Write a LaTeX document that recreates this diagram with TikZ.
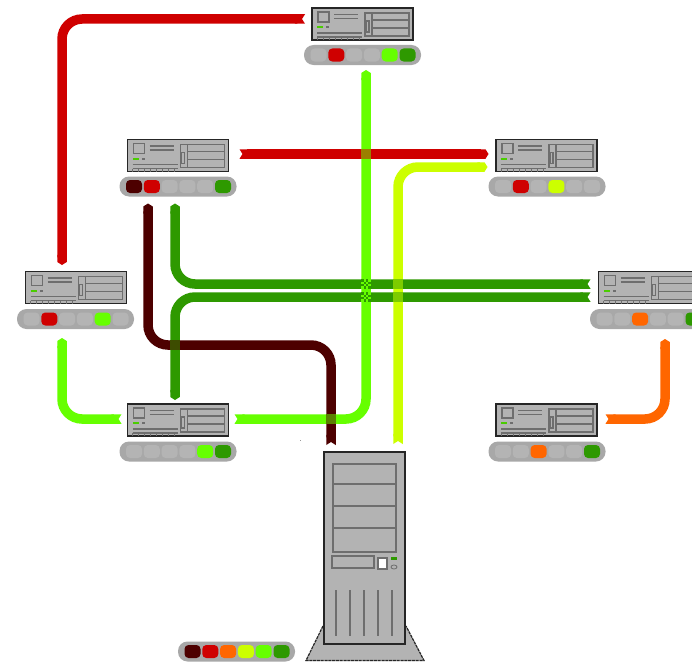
\documentclass[tikz,border=0pt]{standalone}
\usetikzlibrary{arrows.meta,calc}
\definecolor{cMaroon}{HTML}{4D0000}
\definecolor{cRed}{HTML}{CF0000}
\definecolor{cOrange}{HTML}{FF6600}
\definecolor{cYellow}{HTML}{CCFF00}
\definecolor{cLime}{HTML}{66FF00}
\definecolor{cGreen}{HTML}{2E9900}
\definecolor{cBody}{HTML}{B3B3B3}
\definecolor{cLine}{HTML}{6E6E6E}
\definecolor{cSlot}{HTML}{B4B4B4}
\definecolor{cBar}{HTML}{A8A8A8}
\tikzset{
  x=1pt,y=-1pt,
  serverbox/.style={draw=black!85,line width=1.4pt,fill=cBody,minimum width=101pt,minimum height=32pt,inner sep=0pt,outer sep=0pt},
  towerbox/.style={draw=black!85,line width=1.6pt,fill=cBody,minimum width=81pt,minimum height=192pt,inner sep=0pt,outer sep=0pt},
  barbox/.style={fill=cBar,rounded corners=9.5pt,minimum width=117pt,minimum height=20pt,inner sep=0pt,outer sep=0pt},
  detail/.style={draw=cLine,line width=1.4pt},
  wire/.style={line width=9.5pt,rounded corners=20pt,{Triangle Cap[reversed,length=3pt]}-{Triangle Cap[length=3pt]}},
  wirerev/.style={line width=9.5pt,rounded corners=20pt,{Triangle Cap[length=3pt]}-{Triangle Cap[reversed,length=3pt]}},
}
% \servdetail{node name}: inner drawing, relative to the box's north west corner
\newcommand{\servdetail}[1]{%
  \begin{scope}[shift={(#1.north west)}]
    \draw[detail] (6,4) rectangle (17,14);
    \draw[detail] (22,6.5) -- (46,6.5) (22,10.5) -- (46,10.5);
    \fill[cGreen!50!cLime] (5,18) rectangle (11,20);
    \fill[cLine] (14,18) rectangle (17,20);
    \draw[detail] (5,25) -- (50,25);
    \draw[detail] (5,29) -- (50,29);
    \foreach \t in {5,11,...,47} \draw[cLine,line width=1pt] (\t,29) -- (\t,32);
    \draw[detail] (53,5) rectangle (60,28);
    \draw[detail] (54,13) rectangle (57,24);
    \draw[detail] (60,5) rectangle (97,12) (60,12) rectangle (97,20) (60,20) rectangle (97,28);
  \end{scope}}
% \slots{bar node}{c1}{c2}{c3}{c4}{c5}{c6}
\newcommand{\slots}[7]{%
  \begin{scope}[shift={(#1.west)}]
    \foreach \n/\c in {0/#2,1/#3,2/#4,3/#5,4/#6,5/#7}
      \fill[\c,rounded corners=4pt] ({6.5+\n*17.8},-6.5) rectangle ({22.5+\n*17.8},6.5);
  \end{scope}}
\begin{document}
\begin{tikzpicture}
\useasboundingbox (0,0) rectangle (692,661);
\clip (0,0) rectangle (692,661);
\fill[white] (0,0) rectangle (692,661);

% servers
\node[serverbox] (s1) at (362.5,24) {};
\node[barbox] (b1) at (362.5,55) {};
\node[serverbox] (s2) at (178,155.5) {};
\node[barbox] (b2) at (178,186.5) {};
\node[serverbox] (s3) at (546.5,155.5) {};
\node[barbox] (b3) at (547,186.5) {};
\node[serverbox] (s4) at (76,287.5) {};
\node[barbox] (b4) at (75.5,319) {};
\node[serverbox] (s5) at (649,287.5) {};
\node[barbox] (b5) at (648.5,319) {};
\node[serverbox] (s6) at (178,420) {};
\node[barbox] (b6) at (178,451.5) {};
\node[serverbox] (s7) at (546.5,420) {};
\node[barbox] (b7) at (547,451.5) {};
\node[barbox] (legend) at (236.5,651.5) {};
\foreach \s in {s1,s2,s3,s4,s5,s6,s7} {\servdetail{\s}}

\slots{b1}{cSlot}{cRed}{cSlot}{cSlot}{cLime}{cGreen}
\slots{b2}{cMaroon}{cRed}{cSlot}{cSlot}{cSlot}{cGreen}
\slots{b3}{cSlot}{cRed}{cSlot}{cYellow}{cSlot}{cSlot}
\slots{b4}{cSlot}{cRed}{cSlot}{cSlot}{cLime}{cSlot}
\slots{b5}{cSlot}{cSlot}{cOrange}{cSlot}{cSlot}{cGreen}
\slots{b6}{cSlot}{cSlot}{cSlot}{cSlot}{cLime}{cGreen}
\slots{b7}{cSlot}{cSlot}{cOrange}{cSlot}{cSlot}{cGreen}
\slots{legend}{cMaroon}{cRed}{cOrange}{cYellow}{cLime}{cGreen}

% tower
\fill[cBody] (323,626) -- (306,661) -- (424,661) -- (406,626) -- cycle;
\draw[black!85,line width=1.2pt,dash pattern=on 3pt off .8pt] (323,626) -- (306,660.5) -- (424,660.5) -- (406,626);
\node[towerbox] (tower) at (364.5,548) {};
\begin{scope}[shift={(tower.north west)}]
  \draw[detail,line width=1.6pt] (9,12) rectangle (72,100);
  \draw[detail,line width=1.6pt] (9,32) -- (72,32) (9,54) -- (72,54) (9,76) -- (72,76);
  \draw[detail,line width=1.6pt] (8,104) rectangle (50,116);
  \draw[detail,fill=white,line width=1.6pt] (54,106) rectangle (63,117);
  \fill[cGreen] (67,104.5) rectangle (73,108);
  \draw[cLine,line width=.8pt] (70,115) ellipse (3 and 2);
  \foreach \v in {12,26,40,54,68} \draw[detail] (\v,138) -- (\v,184);
\end{scope}

% connectors
\draw[wire,cRed] ([shift={(-7,-5)}]s1.west) -| ([shift={(-14,-6.5)}]s4.north);
\draw[wire,cRed] ([shift={(11,-1.5)}]s2.east) -- ([shift={(-7.5,-1.5)}]s3.west);
\draw[wirerev,cLime] ([shift={(3.5,5)}]b1.south) |- ([shift={(6,-1)}]s6.east);
\draw[wirerev,cYellow] ([shift={(-8.5,11.5)}]s3.west) -| ([shift={(33.5,-8)}]tower.north);
\draw[wirerev,cGreen] ([shift={(-3,7)}]b2.south) |- ([shift={(-8,-3.5)}]s5.west);
\draw[wirerev,cGreen] ([shift={(-3,-4)}]s6.north) |- ([shift={(-8,9.5)}]s5.west);
\coordinate (mid) at (240,345);
\draw[wirerev,cMaroon] ([shift={(-30,7)}]b2.south) |- (mid) -| ([shift={(-33.5,-7)}]tower.north);
\draw[wirerev,cLime] ([shift={(-13.5,9)}]b4.south) |- ([shift={(-6,-1)}]s6.west);
\draw[wirerev,cOrange] ([shift={(16.5,10)}]b5.south) |- ([shift={(8.5,-1)}]s7.east);

% crossings
\fill[cRed!50!cLime] (361.25,149.25) rectangle (370.75,158.75);
\fill[cMaroon!50!cGreen] (170.25,340.25) rectangle (179.75,349.75);
\fill[cMaroon!50!cLime] (326.25,414.25) rectangle (335.75,423.75);
\fill[cYellow!50!cGreen] (393.25,279.25) rectangle (402.75,288.75);
\fill[cYellow!50!cGreen] (393.25,292.25) rectangle (402.75,301.75);
\foreach \yy in {279.25,292.25} {
  \fill[cLime] (361.25,\yy) rectangle (370.75,\yy+9.5);
  \foreach \i in {0,1,2,3} \foreach \j in {0,1,2,3} {
    \pgfmathparse{int(mod(\i+\j,2))}
    \ifnum\pgfmathresult=0
      \fill[cGreen] ({361.25+\i*2.375},{\yy+\j*2.375}) rectangle ++(2.375,2.375);
    \fi
  }
}
\fill[black!40] (299.5,439.5) rectangle (301,441);
\end{tikzpicture}
\end{document}
